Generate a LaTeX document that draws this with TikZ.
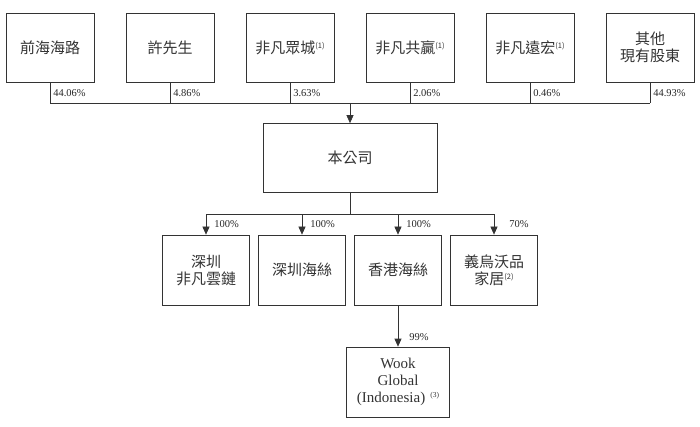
\documentclass[tikz,border=0pt]{standalone}
\usepackage{fontspec}
\setmainfont{Liberation Serif}
\newfontfamily\cjk{Noto Sans CJK TC}
\usepackage{tikz}
\usetikzlibrary{arrows.meta}
\newcommand\fnm[1]{\raisebox{5pt}{\fontsize{7.5}{7.5}\selectfont(#1)}}

\begin{document}
\begin{tikzpicture}[->,>={Triangle[length=8pt,width=7pt]},x=1pt,y=-1pt,
                            line width=0.7pt,color=black!80]
          \tikzstyle{box}=[draw,fill=white,minimum width=88pt,minimum height=69pt,
                           align=center,inner sep=2pt,font=\cjk\fontsize{15}{17}\selectfont]
          \tikzstyle{pct}=[font=\fontsize{10.5}{12}\selectfont,inner sep=2pt,text=black!85]

          \useasboundingbox (0,0) rectangle (700,427);

          % shareholders
          \node[box] (QHHL) at (50,47.5)  {前海海路};
          \node[box] (Xu)   at (170,47.5) {許先生};
          \node[box] (FFZC) at (290,47.5) {非凡眾城\fnm{1}};
          \node[box] (FFGY) at (410,47.5) {非凡共贏\fnm{1}};
          \node[box] (FFYH) at (530,47.5) {非凡遠宏\fnm{1}};
          \node[box] (QT)   at (650,47.5) {其他\\現有股東};

          \node[box,minimum width=174pt] (CO) at (350,158) {本公司};

          % subsidiaries
          \node[box,minimum width=87pt,minimum height=70pt] (SZYL) at (206,270) {深圳\\非凡雲鏈};
          \node[box,minimum width=87pt,minimum height=70pt] (SZHS) at (302,270) {深圳海絲};
          \node[box,minimum width=87pt,minimum height=70pt] (HKHS) at (398,270) {香港海絲};
          \node[box,minimum width=87pt,minimum height=70pt] (YWWP) at (494,270) {義烏沃品\\家居\fnm{2}};

          \node[box,minimum width=103pt,minimum height=70pt,
                font=\fontsize{15}{17}\selectfont] (Wook) at (398,382)
                {Wook\\Global\\(Indonesia)\,\,\fnm{3}};

          \coordinate (bus) at (350,103);
          \coordinate (split) at (350,214);

          \path[-] (QHHL.south) edge node[pct,right,xshift=1pt] {44.06\%} (QHHL.south |- bus)
                   (Xu.south)   edge node[pct,right,xshift=1pt] {4.86\%}  (Xu.south |- bus)
                   (FFZC.south) edge node[pct,right,xshift=1pt] {3.63\%}  (FFZC.south |- bus)
                   (FFGY.south) edge node[pct,right,xshift=1pt] {2.06\%}  (FFGY.south |- bus)
                   (FFYH.south) edge node[pct,right,xshift=1pt] {0.46\%}  (FFYH.south |- bus)
                   (QT.south)   edge node[pct,right,xshift=1pt] {44.93\%} (QT.south |- bus);
          \draw[-] (QHHL.south |- bus) -- (QT.south |- bus);
          \draw (bus) -- (CO);

          \draw[-] (CO) -- (split);
          \draw (split) -| node[pct,pos=0.75,right,xshift=6pt] {100\%} (SZYL);
          \draw (split) -| node[pct,pos=0.75,right,xshift=6pt] {100\%} (SZHS);
          \draw (split) -| node[pct,pos=0.75,right,xshift=6pt] {100\%} (HKHS);
          \draw (split) -| node[pct,pos=0.75,right,xshift=13pt] {70\%} (YWWP);

          \draw (HKHS) -- node[pct,pos=0.78,right,xshift=9pt] {99\%} (Wook);

        \end{tikzpicture}
\end{document}
